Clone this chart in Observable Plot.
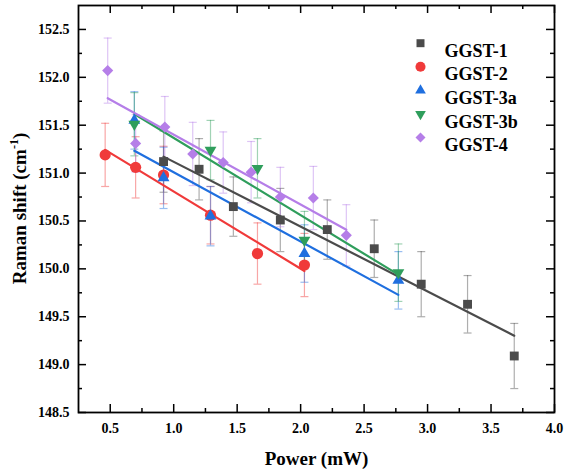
<!DOCTYPE html>
<html><head><meta charset="utf-8">
<script src="https://cdn.jsdelivr.net/npm/d3@7"></script>
<script src="https://cdn.jsdelivr.net/npm/@observablehq/plot@0.6"></script>
<style>body{margin:0;background:#fff} svg{display:block}</style>
</head><body><div id="chart"></div>
<script>
// ---- data ----
const seriesNames = ["GGST-1", "GGST-2", "GGST-3a", "GGST-3b", "GGST-4"];

const power1 = [0.92, 1.20, 1.47, 1.84, 2.21, 2.58, 2.95, 3.315, 3.683];
const shift1 = [151.12, 151.04, 150.65, 150.51, 150.41, 150.21, 149.84, 149.63, 149.09];
const err1   = [0.32, 0.32, 0.31, 0.33, 0.31, 0.30, 0.34, 0.30, 0.34];

const power2 = [0.46, 0.70, 0.92, 1.29, 1.66, 2.03];
const shift2 = [151.19, 151.06, 150.98, 150.56, 150.16, 150.04];
const err2   = [0.33, 0.32, 0.30, 0.30, 0.32, 0.33];

const power3a = [0.69, 0.92, 1.29, 2.03, 2.77];
const shift3a = [151.55, 150.95, 150.55, 150.16, 149.88];
const err3a   = [0.30, 0.32, 0.31, 0.30, 0.30];

const power3b = [0.69, 1.29, 1.66, 2.03, 2.77];
const shift3b = [151.51, 151.24, 151.05, 150.30, 149.96];
const err3b   = [0.33, 0.31, 0.31, 0.30, 0.30];

const power4 = [0.48, 0.70, 0.93, 1.15, 1.39, 1.61, 1.84, 2.10, 2.36];
const shift4 = [152.07, 151.31, 151.48, 151.20, 151.11, 151.01, 150.75, 150.74, 150.35];
const err4   = [0.34, 0.30, 0.32, 0.33, 0.32, 0.32, 0.31, 0.33, 0.32];

const xTicks = [0.5, 1.0, 1.5, 2.0, 2.5, 3.0, 3.5, 4.0];
const xMinor = [0.75, 1.25, 1.75, 2.25, 2.75, 3.25, 3.75];
const yTicks = [148.5, 149.0, 149.5, 150.0, 150.5, 151.0, 151.5, 152.0, 152.5];
const yMinor = [148.75, 149.25, 149.75, 150.25, 150.75, 151.25, 151.75, 152.25];

const xLabel = "Power (mW)";
const yLabel = "Raman shift (cm";

// ---- styling ----
const colors = ["#4b4b4b", "#f03a3a", "#1f6fdf", "#2f9e5c", "#b57ee8"];
const triDown = {
  draw(ctx, size) {
    const y = -Math.sqrt(size / (Math.sqrt(3) * 3));
    ctx.moveTo(0, -y * 2);
    ctx.lineTo(-Math.sqrt(3) * y, y);
    ctx.lineTo(Math.sqrt(3) * y, y);
    ctx.closePath();
  }
};
const capSym = { draw(ctx) { ctx.moveTo(-4, 0); ctx.lineTo(4, 0); } };
const symbols = ["square", "circle", "triangle", triDown, "diamond2"];
const radii = [5.0, 5.6, 4.4, 4.4, 5.0];

const powers = [power1, power2, power3a, power3b, power4];
const shifts = [shift1, shift2, shift3a, shift3b, shift4];
const errs = [err1, err2, err3a, err3b, err4];

const series = seriesNames.map((name, i) =>
  powers[i].map((x, j) => ({ series: name, x, y: shifts[i][j], e: errs[i][j] })));

const W = 565, H = 471, mL = 78, mR = 11, mT = 5, mB = 59;
const fw = W - mL - mR, fh = H - mT - mB;
const font = "'Liberation Serif', 'Times New Roman', serif";

const marks = [];
// error bars
series.forEach((d, i) => {
  marks.push(Plot.ruleX(d, { x: "x", y1: r => r.y - r.e, y2: r => r.y + r.e, stroke: colors[i], strokeOpacity: 0.45, strokeWidth: 1.2 }));
  marks.push(Plot.dot(d, { x: "x", y: r => r.y + r.e, symbol: capSym, stroke: colors[i], fill: "none", strokeOpacity: 0.45, strokeWidth: 1.2 }));
  marks.push(Plot.dot(d, { x: "x", y: r => r.y - r.e, symbol: capSym, stroke: colors[i], fill: "none", strokeOpacity: 0.45, strokeWidth: 1.2 }));
});
// fit lines
series.forEach((d, i) => {
  marks.push(Plot.linearRegressionY(d, { x: "x", y: "y", stroke: colors[i], strokeWidth: 2.2, ci: 0 }));
});
// points
series.forEach((d, i) => {
  marks.push(Plot.dot(d, { x: "x", y: "y", symbol: symbols[i], r: radii[i], fill: colors[i], stroke: "none" }));
});
// ticks (inward)
marks.push(Plot.tickX(xTicks, { x: d => d, insetTop: fh - 8, stroke: "#000", strokeWidth: 1.5 }));
marks.push(Plot.tickX(xTicks, { x: d => d, insetBottom: fh - 8, stroke: "#000", strokeWidth: 1.5 }));
marks.push(Plot.tickX(xMinor, { x: d => d, insetTop: fh - 4, stroke: "#000", strokeWidth: 1.5 }));
marks.push(Plot.tickX(xMinor, { x: d => d, insetBottom: fh - 4, stroke: "#000", strokeWidth: 1.5 }));
marks.push(Plot.tickY(yTicks, { y: d => d, insetRight: fw - 8, stroke: "#000", strokeWidth: 1.5 }));
marks.push(Plot.tickY(yTicks, { y: d => d, insetLeft: fw - 8, stroke: "#000", strokeWidth: 1.5 }));
marks.push(Plot.tickY(yMinor, { y: d => d, insetRight: fw - 4, stroke: "#000", strokeWidth: 1.5 }));
marks.push(Plot.tickY(yMinor, { y: d => d, insetLeft: fw - 4, stroke: "#000", strokeWidth: 1.5 }));
marks.push(Plot.frame({ stroke: "#000", strokeWidth: 1.8 }));
// axis labels
marks.push(Plot.axisX({ ticks: xTicks, tickSize: 0, tickPadding: 11, tickFormat: d => d.toFixed(1), fontSize: 14, fontWeight: "bold", fontFamily: font, label: null }));
marks.push(Plot.axisY({ ticks: yTicks, tickSize: 0, tickPadding: 9, tickFormat: d => d.toFixed(1), fontSize: 14, fontWeight: "bold", fontFamily: font, label: null }));
marks.push(Plot.text([xLabel], { frameAnchor: "bottom", dy: 52, text: d => d, fontSize: 19, fontWeight: "bold", fontFamily: font }));
// legend
seriesNames.forEach((name, i) => {
  marks.push(Plot.dot([name], { frameAnchor: "top-left", dx: 420 - mL, dy: 42.7 - mT + i * 23.6, symbol: symbols[i], r: radii[i] * 0.9, fill: colors[i], stroke: "none" }));
  marks.push(Plot.text([name], { frameAnchor: "top-left", dx: 444 - mL, dy: 43.5 - mT + i * 23.6, text: d => d, textAnchor: "start", fontSize: 18, fontWeight: "bold", fontFamily: font }));
});

const chart = Plot.plot({
  width: W, height: H,
  marginLeft: mL, marginRight: mR, marginTop: mT, marginBottom: mB,
  x: { domain: [0.25, 4.0] },
  y: { domain: [148.5, 152.75] },
  style: { fontFamily: font, background: "#fff", color: "#000" },
  marks
});

// y-axis title with superscript
const svg = d3.select(chart);
const t = svg.append("text")
  .attr("transform", `translate(22,${mT + fh / 2}) rotate(-90)`)
  .attr("text-anchor", "middle")
  .attr("dominant-baseline", "middle")
  .attr("font-family", font)
  .attr("font-size", 19)
  .attr("font-weight", "bold")
  .attr("fill", "#000");
t.append("tspan").text(yLabel);
t.append("tspan").attr("dy", -7).attr("font-size", 12).text("-1");
t.append("tspan").attr("dy", 7).text(")");

document.getElementById("chart").appendChild(chart);
</script>
</body></html>
